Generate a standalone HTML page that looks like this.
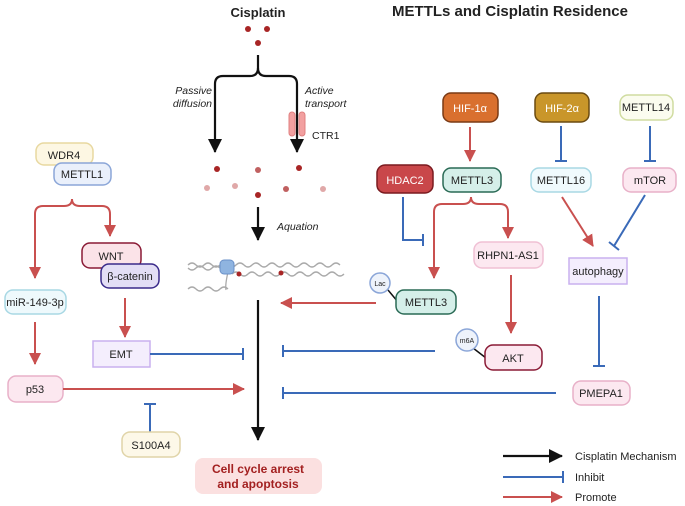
<!DOCTYPE html>
<html><head><meta charset="utf-8"><style>
html,body{margin:0;padding:0;background:#fff;}
svg{display:block;font-family:"Liberation Sans",sans-serif;}
</style></head><body>
<svg width="685" height="506" viewBox="0 0 685 506" xmlns="http://www.w3.org/2000/svg">
<defs>
<marker id="ab" markerWidth="8" markerHeight="8" refX="6" refY="4" orient="auto" markerUnits="userSpaceOnUse"><path d="M0,0 L8,4 L0,8 Z" fill="#111" transform="scale(1.4) translate(-1.5,-1.15)"/></marker>
<marker id="ar" markerWidth="14" markerHeight="12" refX="11" refY="6" orient="auto" markerUnits="userSpaceOnUse"><path d="M0,0 L12,6 L0,12 Z" fill="#c9504f"/></marker>
<marker id="abk" markerWidth="16" markerHeight="14" refX="13" refY="7" orient="auto" markerUnits="userSpaceOnUse"><path d="M0,0 L14,7 L0,14 Z" fill="#111"/></marker>
</defs>
<style>
.r{stroke:#c9504f;stroke-width:2;fill:none}
.b{stroke:#3a6ab8;stroke-width:2;fill:none}
.k{stroke:#111;stroke-width:2.2;fill:none}
text{font-size:11px;fill:#222}
</style>
<text x="258" y="17" text-anchor="middle" style="font-size:13px;font-weight:bold">Cisplatin</text>
<text x="510" y="16" text-anchor="middle" style="font-size:15px;font-weight:bold">METTLs and Cisplatin Residence</text>
<g fill="#a82525"><circle cx="248" cy="29" r="3"/><circle cx="267" cy="29" r="3"/><circle cx="258" cy="43" r="3"/></g>
<path class="k" d="M258,55 V68 Q258,76 250,76 H223 Q215,76 215,84 V152" marker-end="url(#abk)"/>
<path class="k" d="M258,68 Q258,76 266,76 H289 Q297,76 297,84 V152" marker-end="url(#abk)"/>
<text x="212" y="94" text-anchor="end" style="font-style:italic;font-size:10.5px">Passive</text>
<text x="212" y="107" text-anchor="end" style="font-style:italic;font-size:10.5px">diffusion</text>
<text x="305" y="94" style="font-style:italic;font-size:10.5px">Active</text>
<text x="305" y="107" style="font-style:italic;font-size:10.5px">transport</text>
<rect x="289" y="112" width="6" height="24" rx="3" fill="#f2a0a0" stroke="#e08080"/>
<rect x="299" y="112" width="6" height="24" rx="3" fill="#f2a0a0" stroke="#e08080"/>
<text x="312" y="139" style="font-size:10.5px">CTR1</text>
<g><circle cx="217" cy="169" r="3" fill="#a82525"/><circle cx="258" cy="170" r="3" fill="#c06060"/><circle cx="299" cy="168" r="3" fill="#a82525"/>
<circle cx="207" cy="188" r="3" fill="#e0a8a8"/><circle cx="235" cy="186" r="3" fill="#e0a8a8"/><circle cx="258" cy="195" r="3" fill="#a82525"/><circle cx="286" cy="189" r="3" fill="#c06060"/><circle cx="323" cy="189" r="3" fill="#e0a8a8"/></g>
<path class="k" d="M258,207 V240" marker-end="url(#abk)"/>
<text x="277" y="230" style="font-style:italic;font-size:10.5px">Aquation</text>
<path d="M188,265 q4,-4 8,0 t8,0 t8,0 t8,0 t8,0 t8,0 t8,0 t8,0 t8,0 t8,0 t8,0 t8,0 t8,0 t8,0 t8,0 t8,0 t8,0 t8,0 t8,0" stroke="#aaa" stroke-width="1.3" fill="none"/>
<path d="M188,268 q4,4 8,0 t8,0 t8,0 t8,0" stroke="#aaa" stroke-width="1.3" fill="none"/>
<path d="M232,274 q4,-4 8,0 t8,0 t8,0 t8,0 t8,0 t8,0 t8,0 t8,0 t8,0 t8,0 t8,0 t8,0 t8,0 t8,0" stroke="#aaa" stroke-width="1.3" fill="none"/>
<path d="M188,289 q4,-4 8,0 t8,0 t8,0 t8,0 t8,0" stroke="#aaa" stroke-width="1.3" fill="none"/>
<path d="M228,272 Q225,285 226,290" stroke="#aaa" stroke-width="1.3" fill="none"/>
<rect x="220" y="260" width="14" height="14" rx="4" fill="#8fb4e0" stroke="#6a90c8"/>
<circle cx="239" cy="274" r="2.5" fill="#a82525"/><circle cx="281" cy="273" r="2.5" fill="#a82525"/>
<path class="k" d="M258,300 V440" marker-end="url(#abk)"/>
<rect x="195" y="458" width="127" height="36" rx="8" fill="#fbe0e0"/>
<text x="258" y="473" text-anchor="middle" style="font-size:12px;font-weight:bold;fill:#a32020">Cell cycle arrest</text>
<text x="258" y="488" text-anchor="middle" style="font-size:12px;font-weight:bold;fill:#a32020">and apoptosis</text>
<!-- left -->
<rect x="36" y="143" width="57" height="22" rx="8" fill="#fdf7e3" stroke="#e8d8a0" stroke-width="1.5"/>
<text x="64" y="159" text-anchor="middle">WDR4</text>
<rect x="54" y="163" width="57" height="22" rx="8" fill="#eaf0fb" stroke="#8ba6d8" stroke-width="1.5"/>
<text x="82" y="178" text-anchor="middle">METTL1</text>
<path class="r" d="M72,199 Q72,206 64,206 H43 Q35,206 35,214 V278" marker-end="url(#ar)"/>
<path class="r" d="M72,199 Q72,206 80,206 H102 Q110,206 110,214 V236" marker-end="url(#ar)"/>
<rect x="82" y="243" width="59" height="25" rx="8" fill="#fbe3e8" stroke="#8a1a35" stroke-width="1.5"/>
<text x="111" y="260" text-anchor="middle">WNT</text>
<rect x="101" y="264" width="58" height="24" rx="8" fill="#e3def5" stroke="#3a2a8a" stroke-width="1.5"/>
<text x="130" y="280" text-anchor="middle">β-catenin</text>
<rect x="5" y="290" width="61" height="24" rx="8" fill="#eef9fc" stroke="#a8d8e4" stroke-width="1.5"/>
<text x="35" y="306" text-anchor="middle">miR-149-3p</text>
<path class="r" d="M35,322 V364" marker-end="url(#ar)"/>
<rect x="8" y="376" width="55" height="26" rx="8" fill="#fce8f0" stroke="#e8b0c8" stroke-width="1.5"/>
<text x="35" y="393" text-anchor="middle">p53</text>
<path class="r" d="M125,298 V337" marker-end="url(#ar)"/>
<rect x="93" y="341" width="57" height="26" fill="#f4eefd" stroke="#c9b0ef" stroke-width="1.5"/>
<text x="121" y="358" text-anchor="middle">EMT</text>
<path class="b" d="M150,354 H243 M243,348 V360"/>
<path class="r" d="M63,389 H244" marker-end="url(#ar)"/>
<path class="b" d="M150,432 V404 M144,404 H156"/>
<rect x="122" y="432" width="58" height="25" rx="8" fill="#fdf8e8" stroke="#e0d4a8" stroke-width="1.5"/>
<text x="151" y="449" text-anchor="middle">S100A4</text>
<!-- right -->
<rect x="443" y="93" width="55" height="29" rx="8" fill="#d9702f" stroke="#7a3a15" stroke-width="1.5"/>
<text x="470" y="112" text-anchor="middle" style="fill:#fff">HIF-1α</text>
<rect x="535" y="93" width="54" height="29" rx="8" fill="#c9962a" stroke="#6a4a10" stroke-width="1.5"/>
<text x="562" y="112" text-anchor="middle" style="fill:#fff">HIF-2α</text>
<rect x="620" y="95" width="53" height="25" rx="8" fill="#fbfcef" stroke="#d0dca0" stroke-width="1.5"/>
<text x="646" y="111" text-anchor="middle">METTL14</text>
<path class="r" d="M470,127 V161" marker-end="url(#ar)"/>
<path class="b" d="M561,126 V161 M555,161 H567"/>
<path class="b" d="M650,126 V161 M644,161 H656"/>
<rect x="377" y="165" width="56" height="28" rx="8" fill="#c9474a" stroke="#7a1a1f" stroke-width="1.5"/>
<text x="405" y="184" text-anchor="middle" style="fill:#fff">HDAC2</text>
<rect x="443" y="168" width="58" height="24" rx="8" fill="#d5efe9" stroke="#2a6a55" stroke-width="1.5"/>
<text x="472" y="184" text-anchor="middle">METTL3</text>
<rect x="531" y="168" width="60" height="24" rx="8" fill="#f0fafd" stroke="#a8d8e4" stroke-width="1.5"/>
<text x="561" y="184" text-anchor="middle">METTL16</text>
<rect x="623" y="168" width="53" height="24" rx="8" fill="#fce8f0" stroke="#e8b0c8" stroke-width="1.5"/>
<text x="650" y="184" text-anchor="middle">mTOR</text>
<path class="b" d="M403,197 V240 H423 M423,234 V246"/>
<path class="r" d="M471,197 Q471,204 463,204 H442 Q434,204 434,212 V278" marker-end="url(#ar)"/>
<path class="r" d="M471,197 Q471,204 479,204 H500 Q508,204 508,212 V238" marker-end="url(#ar)"/>
<rect x="474" y="242" width="69" height="26" rx="8" fill="#fce8f0" stroke="#f0c0d4" stroke-width="1.5"/>
<text x="508" y="259" text-anchor="middle">RHPN1-AS1</text>
<path class="r" d="M562,197 L593,246" marker-end="url(#ar)"/>
<path class="b" d="M645,195 L614,246 M609,242 L619,250"/>
<rect x="569" y="258" width="58" height="26" fill="#f4eefd" stroke="#c9b0ef" stroke-width="1.5"/>
<text x="598" y="275" text-anchor="middle">autophagy</text>
<line x1="388" y1="290" x2="398" y2="302" stroke="#111" stroke-width="1.5"/>
<circle cx="380" cy="283" r="10" fill="#eef3fb" stroke="#8ba6d8" stroke-width="1.5"/>
<text x="380" y="286" text-anchor="middle" style="font-size:7px">Lac</text>
<rect x="396" y="290" width="60" height="24" rx="8" fill="#d5efe9" stroke="#2a6a55" stroke-width="1.5"/>
<text x="426" y="306" text-anchor="middle">METTL3</text>
<path class="r" d="M376,303 H281" marker-end="url(#ar)"/>
<path class="r" d="M511,275 V333" marker-end="url(#ar)"/>
<line x1="473" y1="348" x2="486" y2="358" stroke="#111" stroke-width="1.5"/>
<circle cx="467" cy="340" r="11" fill="#eef3fb" stroke="#8ba6d8" stroke-width="1.5"/>
<text x="467" y="343" text-anchor="middle" style="font-size:7px">m6A</text>
<rect x="485" y="345" width="57" height="25" rx="8" fill="#fce8f0" stroke="#8a1a35" stroke-width="1.5"/>
<text x="513" y="362" text-anchor="middle">AKT</text>
<path class="b" d="M435,351 H283 M283,345 V357"/>
<path class="b" d="M599,296 V366 M593,366 H605"/>
<rect x="573" y="381" width="57" height="24" rx="8" fill="#fce8f0" stroke="#e8b0c8" stroke-width="1.5"/>
<text x="601" y="397" text-anchor="middle">PMEPA1</text>
<path class="b" d="M556,393 H283 M283,387 V399"/>
<!-- legend -->
<path class="k" d="M503,456 H562" marker-end="url(#abk)"/>
<text x="575" y="460">Cisplatin Mechanism</text>
<path class="b" d="M503,477 H563 M563,471 V483"/>
<text x="575" y="481">Inhibit</text>
<path class="r" d="M503,497 H562" marker-end="url(#ar)"/>
<text x="575" y="501">Promote</text>
</svg>
</body></html>
